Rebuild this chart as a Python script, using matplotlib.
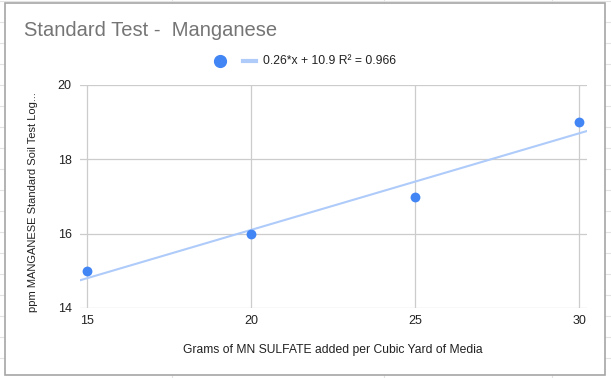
import matplotlib
matplotlib.use('Agg')
import matplotlib.pyplot as plt
from matplotlib.lines import Line2D
from matplotlib.patches import Rectangle
import numpy as np

plt.rcParams['font.family'] = ['Liberation Sans', 'DejaVu Sans']

# data
grams = [15, 20, 25, 30]
ppm_mn = [15, 16, 17, 19]
x_ticks = [15, 20, 25, 30]
y_ticks = [14, 16, 18, 20]

title = 'Standard Test -  Manganese'
x_label = 'Grams of MN SULFATE added per Cubic Yard of Media'
y_label = 'ppm MANGANESE Standard Soil Test Log...'

W, H = 611, 378
fig = plt.figure(figsize=(W / 100, H / 100), dpi=100)


def fx(px):
    return px / W


def fy(py):
    return 1 - py / H


# spreadsheet cells behind the chart card
for yy in range(1, H, 21):
    fig.add_artist(Line2D([0, 1], [fy(yy), fy(yy)], color='#e3e3e3', lw=0.8, zorder=-10))
for xx in [172, 384, 552]:
    fig.add_artist(Line2D([fx(xx), fx(xx)], [0, 1], color='#e3e3e3', lw=0.8, zorder=-10))

# chart card
fig.add_artist(Rectangle((fx(5), fy(375)), fx(600), 372 / H, facecolor='white',
                         edgecolor='#a6a6a6', lw=1.2, zorder=-5))

ax = fig.add_axes([fx(80), fy(308), fx(507), 223 / H])
ax.set_facecolor('none')

# linear trendline
slope, intercept = np.polyfit(grams, ppm_mn, 1)
pred = slope * np.array(grams) + intercept
r2 = 1 - np.sum((np.array(ppm_mn) - pred) ** 2) / np.sum((np.array(ppm_mn) - np.mean(ppm_mn)) ** 2)
xlim = (14.79, 30.24)
xx = np.array(xlim)
ax.plot(xx, slope * xx + intercept, color='#aecbfa', lw=1.5, zorder=2)

ax.scatter(grams, ppm_mn, s=50, color='#4285f4', zorder=3, linewidths=0)

ax.set_xlim(*xlim)
ax.set_ylim(14, 20)
ax.set_xticks(x_ticks)
ax.set_yticks(y_ticks)
ax.grid(True, color='#cccccc', lw=0.9)
ax.set_axisbelow(True)
for s in ax.spines.values():
    s.set_visible(False)
ax.tick_params(length=0, labelsize=9, labelcolor='#222222')
ax.tick_params(axis='x', pad=5)
ax.tick_params(axis='y', pad=6)

fig.text(fx(24), fy(30), title, fontsize=14.5, color='#757575', va='center', ha='left')
fig.text(fx(333), fy(350), x_label, fontsize=8.7, color='#222222', ha='center', va='center')
fig.text(fx(33), fy(202), y_label, fontsize=8, color='#222222', ha='center', va='center',
         rotation=90)

# legend
fig.add_artist(Line2D([fx(220)], [fy(61)], marker='o', markersize=8.5, color='#4285f4', lw=0))
fig.add_artist(Line2D([fx(243), fx(256)], [fy(61), fy(61)], color='#aecbfa', lw=3))
fig.text(fx(263), fy(61), f'{slope:.2f}*x + {intercept:.1f} R² = {r2:.3f}', fontsize=8.7,
         color='#222222', va='center', ha='left')

fig.savefig('out.png', dpi=100)
